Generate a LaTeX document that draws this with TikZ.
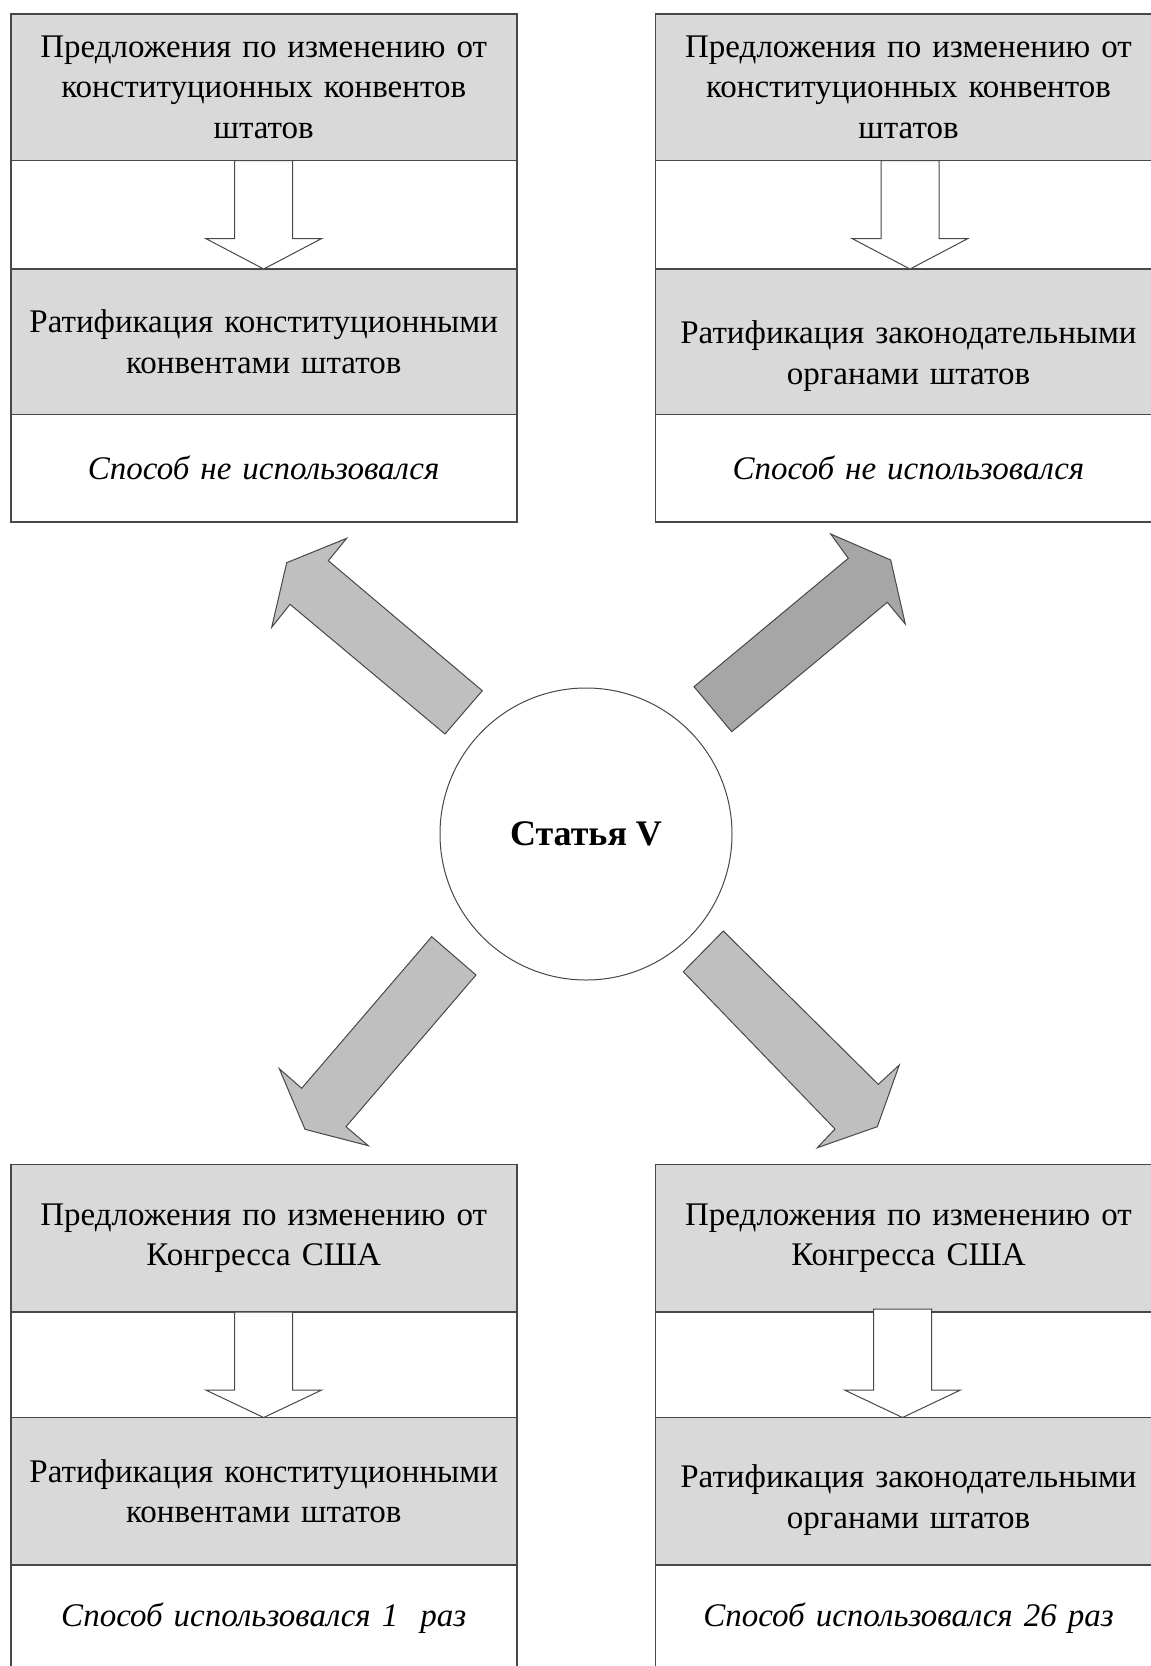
\documentclass[tikz,border=0pt]{standalone}
\usepackage{fontspec}
\setmainfont{Liberation Serif}
\usetikzlibrary{positioning,calc}

\definecolor{bandgray}{RGB}{217,217,217}
\definecolor{arrowgray}{RGB}{191,191,191}
\definecolor{darkarrow}{RGB}{166,166,166}
\definecolor{edgegray}{RGB}{72,72,72}

\tikzset{
	band/.style={draw=edgegray, line width=1.8pt, fill=bandgray, minimum width=506pt,
		text width=495pt, align=center, inner sep=0pt, outer sep=0pt,
		font=\fontsize{33}{40.5}\selectfont},
	whiteband/.style={band, fill=white},
	hollow/.style={draw=edgegray, line width=1pt, fill=white},
	fatarrow/.style={draw=edgegray, line width=1pt, fill=arrowgray},
}

\begin{document}
\begin{tikzpicture}[x=1pt,y=1pt]
	\useasboundingbox (0,0) rectangle (1151,-1666);
	\clip (0,0) rectangle (1151,-1666);

	\node[band, minimum height=146.5pt, anchor=north west] (tl1) at (10.7,-14) {Предложения по изменению от\\ конституционных конвентов\\ штатов};
	\node[whiteband, minimum height=108.5pt, below=0pt of tl1] (tl2) {};
	\node[band, minimum height=145.5pt, below=0pt of tl2] (tl3) {Ратификация конституционными\\ конвентами штатов};
	\node[whiteband, minimum height=107.5pt, below=0pt of tl3] (tl4) {\textit{Способ не использовался}};

	\node[band, minimum height=146.5pt, anchor=north west] (tr1) at (655.5,-14) {Предложения по изменению от\\ конституционных конвентов\\ штатов};
	\node[whiteband, minimum height=108.5pt, below=0pt of tr1] (tr2) {};
	\node[band, minimum height=145.5pt, below=0pt of tr2] (tr3) {\rule{0pt}{52pt}Ратификация законодательными\\ органами штатов};
	\node[whiteband, minimum height=107.5pt, below=0pt of tr3] (tr4) {\textit{Способ не использовался}};

	\node[band, minimum height=147.5pt, anchor=north west] (bl1) at (10.7,-1164.5) {Предложения по изменению от\\ Конгресса США};
	\node[whiteband, minimum height=105.5pt, below=0pt of bl1] (bl2) {};
	\node[band, minimum height=147.5pt, below=0pt of bl2] (bl3) {Ратификация конституционными\\ конвентами штатов};
	\node[whiteband, minimum height=107pt, below=0pt of bl3] (bl4) {\textit{Способ использовался 1~ раз}};

	\node[band, minimum height=147.5pt, anchor=north west] (br1) at (655.5,-1164.5) {Предложения по изменению от\\ Конгресса США};
	\node[whiteband, minimum height=105.5pt, below=0pt of br1] (br2) {};
	\node[band, minimum height=147.5pt, below=0pt of br2] (br3) {\rule{0pt}{40pt}Ратификация законодательными\\ органами штатов};
	\node[whiteband, minimum height=107pt, below=0pt of br3] (br4) {\textit{Способ использовался 26 раз}};

	\foreach \b/\dx/\up in {tl/0/0,tr/1.5/0,bl/0/0,br/-6/3}
		\draw[hollow] ($(\b2.north)+(\dx-29,\up)$) -- ($(\b2.north)+(\dx-29,-78)$) -- ++(-29,0) -- ($(\b2.south)+(\dx,0)$)
			-- ($(\b2.north)+(\dx+58,-78)$) -- ++(-29,0) -- ($(\b2.north)+(\dx+29,\up)$) -- cycle;

	\node[circle, draw=edgegray, line width=1pt, fill=white, minimum size=292pt, inner sep=0pt,
		font=\fontsize{36}{40}\selectfont\bfseries] (art) at (586,-834) {Статья V};

	\draw[fatarrow] (482.3,-690.7) -- (328.3,-560.7) -- (346.7,-538.3) -- (286.7,-562.7)
		-- (271.7,-627.3) -- (290,-604.3) -- (445,-734) -- cycle;
	\draw[fatarrow, fill=darkarrow] (694,-686.7) -- (848.3,-558.3) -- (830.7,-534) -- (890.7,-560)
		-- (905.3,-624) -- (887.3,-602.3) -- (731.7,-731.7) -- cycle;
	\draw[fatarrow] (431.7,-936.7) -- (301.7,-1088.3) -- (279.3,-1068.7) -- (305,-1129.3)
		-- (368.3,-1145.7) -- (346,-1126.7) -- (476,-975) -- cycle;
	\draw[fatarrow] (723.3,-931) -- (878.3,-1084.3) -- (899.3,-1065) -- (877.3,-1126.7)
		-- (817.3,-1147.7) -- (835,-1129) -- (683.3,-971.7) -- cycle;
\end{tikzpicture}
\end{document}
